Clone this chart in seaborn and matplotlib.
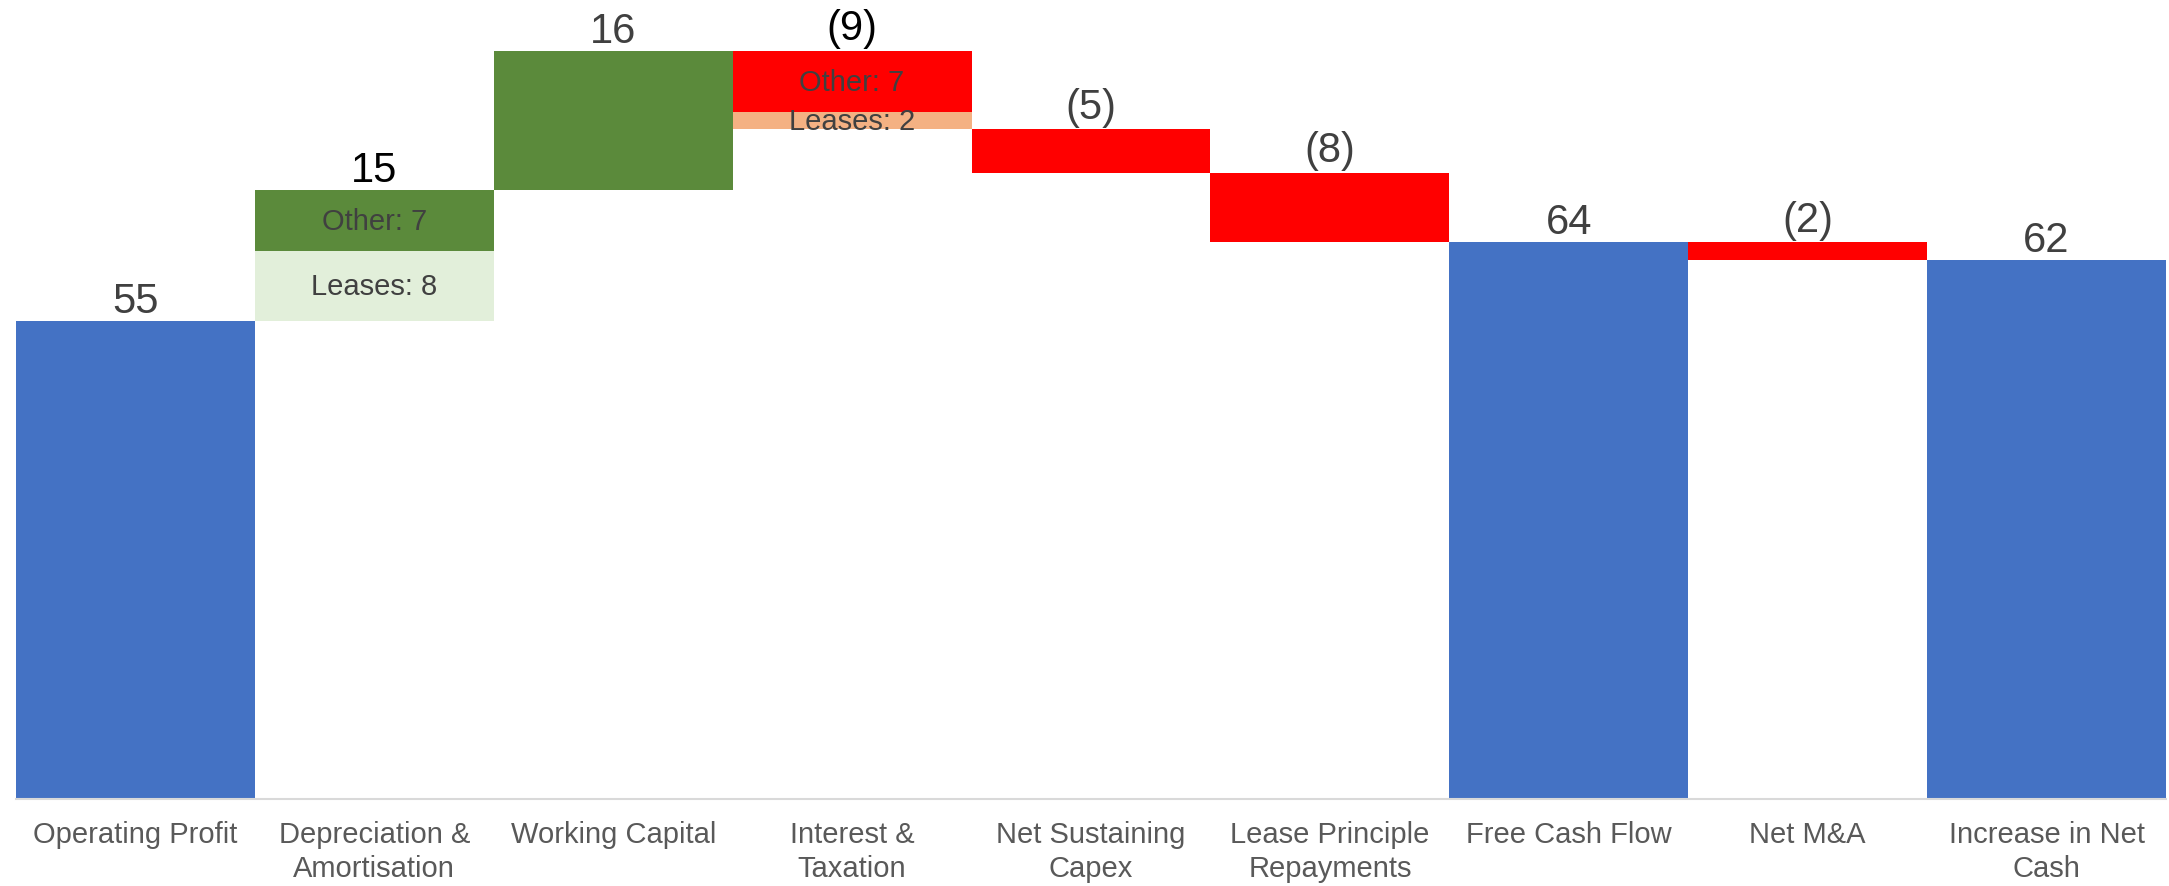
import numpy as np
import pandas as pd
import matplotlib
matplotlib.use("Agg")
import matplotlib.pyplot as plt
import seaborn as sns

categories = ["Operating Profit", "Depreciation &\nAmortisation", "Working Capital",
              "Interest &\nTaxation", "Net Sustaining\nCapex", "Lease Principle\nRepayments",
              "Free Cash Flow", "Net M&A", "Increase in Net\nCash"]
is_total = [True, False, False, False, False, False, True, False, True]
values = [55, 15, 16, -9, -5, -8, 64, -2, 62]
lease_part = [0, 8, 0, -2, 0, 0, 0, 0, 0]

BLUE = "#4472C4"
GREEN = "#5B8A3B"
LIGHT_GREEN = "#E2EFDA"
RED = "#FF0000"
LIGHT_RED = "#F4B183"
GREY_TEXT = "#404040"

sns.set_style("white")
plt.rcParams['font.family'] = ['Liberation Sans', 'DejaVu Sans']

fig = plt.figure(figsize=(21.69, 8.87), dpi=100)
ax = fig.add_axes([16 / 2169, 87 / 887, 2150 / 2169, 800 / 887])

# totals through seaborn
df = pd.DataFrame({"cat": categories,
                   "total": [v if t else 0 for v, t in zip(values, is_total)]})
sns.barplot(data=df, x="cat", y="total", color=BLUE, saturation=1, width=1.0,
            linewidth=0, ax=ax)

# floating movements
level = 0
for i, (v, t, lease) in enumerate(zip(values, is_total, lease_part)):
    if t:
        level = v
        ax.text(i, v, f"{v}", ha="center", va="bottom", fontsize=30, color=GREY_TEXT)
        continue
    start, end = level, level + v
    bottom = min(start, end)
    main_col = GREEN if v > 0 else RED
    lease_col = LIGHT_GREEN if v > 0 else LIGHT_RED
    if lease != 0:
        other = abs(v) - abs(lease)
        ax.bar(i, abs(lease), bottom=bottom, width=1.0, color=lease_col, linewidth=0)
        ax.bar(i, other, bottom=bottom + abs(lease), width=1.0, color=main_col, linewidth=0)
        ax.text(i, bottom + abs(lease) / 2, f"Leases: {abs(lease)}", ha="center",
                va="center", fontsize=21, color=GREY_TEXT)
        ax.text(i, bottom + abs(lease) + other / 2, f"Other: {other}", ha="center",
                va="center", fontsize=21, color=GREY_TEXT)
        lab_col = "black"
    else:
        ax.bar(i, abs(v), bottom=bottom, width=1.0, color=main_col, linewidth=0)
        lab_col = GREY_TEXT
    label = f"{v}" if v > 0 else f"({-v})"
    ax.annotate(label, (i, max(start, end)), xytext=(0, 0 if v > 0 else 2),
                textcoords="offset points", ha="center", va="bottom",
                fontsize=30, color=lab_col)
    level = end

ax.set_xlim(-0.5, len(categories) - 0.5)
ax.set_ylim(0, 92)
ax.set_xlabel("")
ax.set_ylabel("")
ax.set_yticks([])
ax.tick_params(axis="x", length=0, pad=15, labelsize=21, labelcolor="#595959")
for lab in ax.get_xticklabels():
    lab.set_linespacing(1.3)
for s in ["top", "left", "right"]:
    ax.spines[s].set_visible(False)
ax.spines["bottom"].set_color("#D9D9D9")
ax.spines["bottom"].set_linewidth(1.5)

fig.savefig("out.png", dpi=100)
